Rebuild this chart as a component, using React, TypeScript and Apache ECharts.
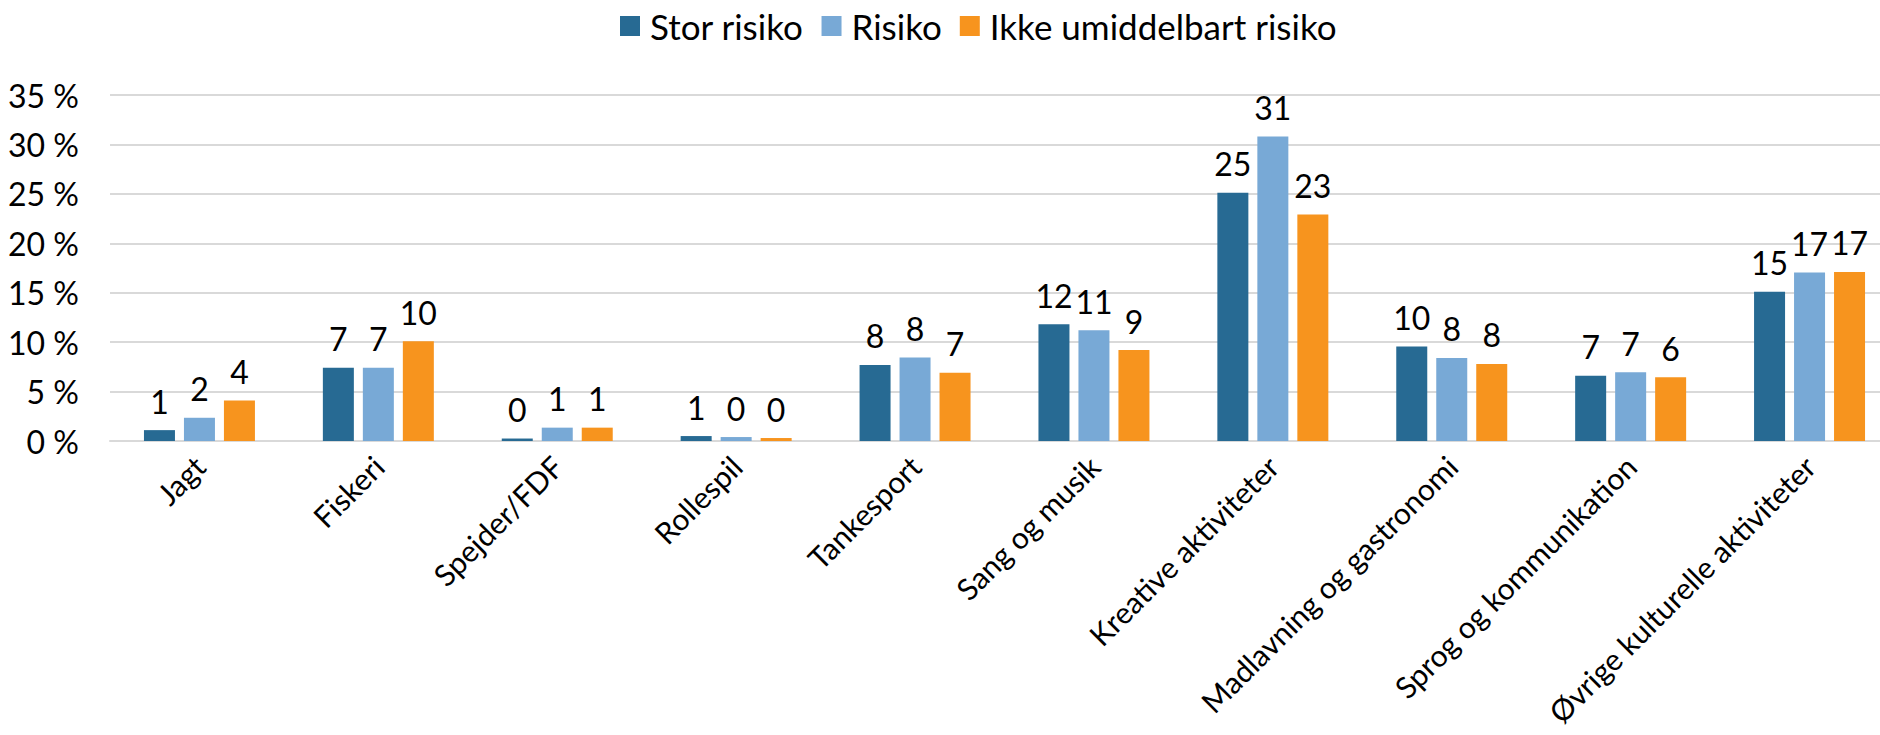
import React, { useEffect, useRef } from "react";
import * as echarts from "echarts";

const categories = [
  "Jagt",
  "Fiskeri",
  "Spejder/FDF",
  "Rollespil",
  "Tankesport",
  "Sang og musik",
  "Kreative aktiviteter",
  "Madlavning og gastronomi",
  "Sprog og kommunikation",
  "Øvrige kulturelle aktiviteter",
];

const storRisiko = [1.1, 7.4, 0.25, 0.5, 7.7, 11.8, 25.1, 9.55, 6.6, 15.1];
const risiko = [2.35, 7.4, 1.35, 0.4, 8.45, 11.2, 30.8, 8.4, 6.95, 17.05];
const ikkeUmiddelbart = [4.1, 10.1, 1.35, 0.3, 6.9, 9.2, 22.9, 7.8, 6.45, 17.1];

const seriesNames = ["Stor risiko", "Risiko", "Ikke umiddelbart risiko"];
const seriesColors = ["#276A93", "#78A9D6", "#F7941E"];

const yTicks = { min: 0, max: 35, interval: 5 };

const FONT = "Lato, 'Open Sans', sans-serif";

export default function App() {
  const ref = useRef<HTMLDivElement>(null);

  useEffect(() => {
    if (!ref.current) return;
    const chart = echarts.init(ref.current, null, { renderer: "svg" });
    const dataSets = [storRisiko, risiko, ikkeUmiddelbart];
    chart.setOption({
      animation: false,
      textStyle: { fontFamily: FONT },
      legend: {
        data: seriesNames,
        left: 615,
        top: 1,
        itemWidth: 20,
        itemHeight: 20,
        itemGap: 18,
        icon: "rect",
        textStyle: {
          fontFamily: FONT,
          fontSize: 35,
          color: "#000",
          padding: [0, 0, 0, 5],
          lineHeight: 40,
        },
      },
      grid: {
        left: 110,
        top: 95,
        width: 1789,
        height: 346,
        containLabel: false,
        outerBoundsMode: "none",
      },
      xAxis: {
        type: "category",
        data: categories,
        axisLine: { show: true, lineStyle: { color: "#D9D9D9", width: 2 } },
        axisTick: { show: false },
        axisLabel: {
          interval: 0,
          rotate: 45,
          margin: 20,
          fontFamily: FONT,
          fontSize: 30,
          color: "#000",
        },
      },
      yAxis: {
        type: "value",
        min: yTicks.min,
        max: yTicks.max,
        interval: yTicks.interval,
        axisLine: { show: false },
        axisTick: { show: false },
        splitLine: { lineStyle: { color: "#D9D9D9", width: 2 } },
        axisLabel: {
          formatter: "{value} %",
          margin: 31,
          fontFamily: FONT,
          fontSize: 32,
          color: "#000",
        },
      },
      series: dataSets.map((d, i) => ({
        name: seriesNames[i],
        type: "bar",
        data: d,
        barWidth: 31,
        barGap: "29%",
        itemStyle: { color: seriesColors[i] },
        label: {
          show: true,
          position: "top",
          distance: 13,
          fontFamily: FONT,
          fontSize: 32,
          color: "#000",
          formatter: (p: any) => String(Math.round(p.value)),
        },
      })),
    });
    return () => chart.dispose();
  }, []);

  return (
    <div
      ref={ref}
      style={{ position: "absolute", left: 0, top: 0, width: 1880, height: 735 }}
    />
  );
}
